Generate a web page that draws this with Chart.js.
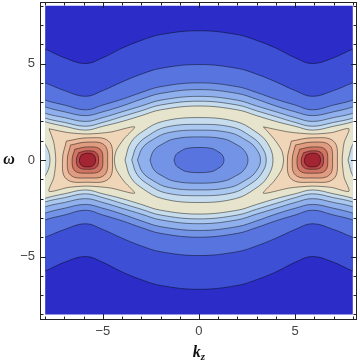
<!DOCTYPE html>
<html lang="en">
<head>
<meta charset="UTF-8">
<title>Contour plot</title>
<script src="https://cdn.jsdelivr.net/npm/chart.js"></script>
<style>
  html, body { margin: 0; padding: 0; background: #fff; }
  #wrap { width: 360px; height: 364px; }
</style>
</head>
<body>
<div id="wrap"><canvas id="contour" width="360" height="364"></canvas></div>
<script>
// plotted range of k_z and omega
const kRange = [-8, 8];
const wRange = [-8, 8];

// tick values
const tickLabels = [-5, 0, 5];
const minorTicks = [-8, -7, -6, -5, -4, -3, -2, -1, 0, 1, 2, 3, 4, 5, 6, 7, 8];

// k values where the wavy band contours were read
const kBand = [-10, -8, -7, -5.9, -5, -4, -3, -2, 0, 2, 3, 4, 5, 5.9, 7, 8, 10];

// upper band contours, outermost first (omega at each kBand value)
const upperLines = [
  [6.5, 5.75, 5.3, 5.0, 5.3, 5.8, 6.2, 6.5, 6.7, 6.5, 6.2, 5.8, 5.3, 5.0, 5.3, 5.75, 6.5],
  [4.75, 4.0, 3.6, 3.3, 3.6, 4.05, 4.45, 4.75, 4.95, 4.75, 4.45, 4.05, 3.6, 3.3, 3.6, 4.0, 4.75],
  [3.8, 3.1, 2.85, 2.6, 2.85, 3.15, 3.5, 3.8, 4.0, 3.8, 3.5, 3.15, 2.85, 2.6, 2.85, 3.1, 3.8],
  [3.45, 2.75, 2.5, 2.3, 2.5, 2.8, 3.15, 3.45, 3.65, 3.45, 3.15, 2.8, 2.5, 2.3, 2.5, 2.75, 3.45],
  [3.1, 2.42, 2.2, 2.0, 2.2, 2.5, 2.8, 3.1, 3.3, 3.1, 2.8, 2.5, 2.2, 2.0, 2.2, 2.42, 3.1],
  [2.85, 2.17, 1.95, 1.75, 1.95, 2.25, 2.55, 2.85, 3.05, 2.85, 2.55, 2.25, 1.95, 1.75, 1.95, 2.17, 2.85],
  [2.6, 1.98, 1.75, 1.55, 1.75, 2.0, 2.3, 2.6, 2.8, 2.6, 2.3, 2.0, 1.75, 1.55, 1.75, 1.98, 2.6]
];

// lower band contours, outermost first
const lowerLines = [
  [-6.5, -5.75, -5.3, -5.0, -5.3, -5.8, -6.2, -6.5, -6.7, -6.5, -6.2, -5.8, -5.3, -5.0, -5.3, -5.75, -6.5],
  [-4.75, -4.0, -3.6, -3.3, -3.6, -4.05, -4.45, -4.75, -4.95, -4.75, -4.45, -4.05, -3.6, -3.3, -3.6, -4.0, -4.75],
  [-3.8, -3.1, -2.85, -2.6, -2.85, -3.15, -3.5, -3.8, -4.0, -3.8, -3.5, -3.15, -2.85, -2.6, -2.85, -3.1, -3.8],
  [-3.45, -2.75, -2.5, -2.3, -2.5, -2.8, -3.15, -3.45, -3.65, -3.45, -3.15, -2.8, -2.5, -2.3, -2.5, -2.75, -3.45],
  [-3.1, -2.42, -2.2, -2.0, -2.2, -2.5, -2.8, -3.1, -3.3, -3.1, -2.8, -2.5, -2.2, -2.0, -2.2, -2.42, -3.1],
  [-2.85, -2.17, -1.95, -1.75, -1.95, -2.25, -2.55, -2.85, -3.05, -2.85, -2.55, -2.25, -1.95, -1.75, -1.95, -2.17, -2.85],
  [-2.6, -1.98, -1.75, -1.55, -1.75, -2.0, -2.3, -2.6, -2.8, -2.6, -2.3, -2.0, -1.75, -1.55, -1.75, -1.98, -2.6]
];

// closed contours round the minima (k offsets from the well centre, omega)
const wellCentres = [-11.6, 0, 11.6];
const wellLoops = [
  [[-3.85,0],[-3.55,0.9],[-2.9,1.5],[-1.9,2.0],[0,2.2],[1.9,2.0],[2.9,1.5],[3.55,0.9],[3.85,0],[3.55,-0.9],[2.9,-1.5],[1.9,-2.0],[0,-2.2],[-1.9,-2.0],[-2.9,-1.5],[-3.55,-0.9],[-3.85,0]],
  [[-3.5,0],[-3.22,0.75],[-2.63,1.27],[-1.75,1.7],[0,1.85],[1.75,1.7],[2.63,1.27],[3.22,0.75],[3.5,0],[3.22,-0.75],[2.63,-1.27],[1.75,-1.7],[0,-1.85],[-1.75,-1.7],[-2.63,-1.27],[-3.22,-0.75],[-3.5,0]],
  [[-3.2,0],[-2.94,0.63],[-2.4,1.06],[-1.6,1.42],[0,1.55],[1.6,1.42],[2.4,1.06],[2.94,0.63],[3.2,0],[2.94,-0.63],[2.4,-1.06],[1.6,-1.42],[0,-1.55],[-1.6,-1.42],[-2.4,-1.06],[-2.94,-0.63],[-3.2,0]],
  [[-2.55,0],[-2.35,0.5],[-1.9,0.83],[-1.27,1.1],[0,1.2],[1.27,1.1],[1.9,0.83],[2.35,0.5],[2.55,0],[2.35,-0.5],[1.9,-0.83],[1.27,-1.1],[0,-1.2],[-1.27,-1.1],[-1.9,-0.83],[-2.35,-0.5],[-2.55,0]],
  [[-1.3,0],[-1.2,0.27],[-0.97,0.45],[-0.65,0.6],[0,0.65],[0.65,0.6],[0.97,0.45],[1.2,0.27],[1.3,0],[1.2,-0.27],[0.97,-0.45],[0.65,-0.6],[0,-0.65],[-0.65,-0.6],[-0.97,-0.45],[-1.2,-0.27],[-1.3,0]]
];

// star shaped outer contour round each maximum
const starLeft = [[-7.8,1.62],[-6.8,1.42],[-5.8,1.35],[-4.6,1.45],[-3.35,1.72],[-3.9,1.1],[-4.3,0.5],[-4.4,0],[-4.3,-0.5],[-3.9,-1.1],[-3.35,-1.72],[-4.6,-1.45],[-5.8,-1.35],[-6.8,-1.42],[-7.8,-1.62],[-7.55,-0.9],[-7.45,0],[-7.55,0.9],[-7.8,1.62]];
const starRight = [[3.35,1.72],[4.7,1.45],[5.9,1.35],[6.9,1.42],[7.8,1.62],[7.55,0.9],[7.45,0],[7.55,-0.9],[7.8,-1.62],[6.9,-1.42],[5.9,-1.35],[4.7,-1.45],[3.35,-1.72],[3.9,-1.1],[4.3,-0.5],[4.4,0],[4.3,0.5],[3.9,1.1],[3.35,1.72]];

// inner contours round the maxima (offsets from the peak centre)
const peakCentres = [-5.8, 5.9];
const peakLoops = [
  [[-1.1,0.98],[0,1.15],[1.1,0.98],[1.3,0],[1.1,-0.98],[0,-1.15],[-1.1,-0.98],[-1.3,0],[-1.1,0.98]],
  [[-0.88,0.78],[0,0.93],[0.88,0.78],[1.05,0],[0.88,-0.78],[0,-0.93],[-0.88,-0.78],[-1.05,0],[-0.88,0.78]],
  [[-0.66,0.56],[0,0.68],[0.66,0.56],[0.8,0],[0.66,-0.56],[0,-0.68],[-0.66,-0.56],[-0.8,0],[-0.66,0.56]],
  [[-0.46,0.38],[0,0.48],[0.46,0.38],[0.58,0],[0.46,-0.38],[0,-0.48],[-0.46,-0.38],[-0.58,0],[-0.46,0.38]],
  [[-0.32,0.27],[0,0.36],[0.32,0.27],[0.42,0],[0.32,-0.27],[0,-0.36],[-0.32,-0.27],[-0.42,0],[-0.32,0.27]]
];

// level colours, lowest to highest
const levelColors = ['#2c2dc9', '#3d4fd5', '#5874de', '#7393e6', '#8fb0ec', '#abc9f0', '#c7ddee',
                     '#e6e4cc', '#f0d6b8', '#ebbc9d', '#df9c80', '#cf7564', '#bb4a4c', '#a32433'];
const lineColor = 'rgba(0, 0, 0, 0.5)';

function shape(points, level, tension, border) {
    return {
        data: points.map(p => ({ x: p[0], y: p[1] })),
        showLine: true,
        fill: 'shape',
        backgroundColor: levelColors[level],
        borderColor: lineColor,
        borderWidth: border === undefined ? 0.9 : border,
        pointRadius: 0,
        pointHoverRadius: 0,
        tension: tension
    };
}

// build layers in painting order (bottom first)
let layers = [];
layers.push(shape([[-10, 10], [10, 10], [10, -10], [-10, -10], [-10, 10]], 0, 0, 0));
upperLines.forEach((top, i) => {
    let pts = kBand.map((k, j) => [k, top[j]]);
    let bottom = kBand.map((k, j) => [k, lowerLines[i][j]]).reverse();
    layers.push(shape(pts.concat(bottom), i + 1, 0.4));
});
wellCentres.forEach(c => {
    wellLoops.forEach((loop, i) => {
        layers.push(shape(loop.map(p => [p[0] + c, p[1]]), 6 - i, 0.4));
    });
});
[starLeft, starRight].forEach((star, s) => {
    layers.push(shape(star, 8, 0.25));
    peakLoops.forEach((loop, i) => {
        layers.push(shape(loop.map(p => [p[0] + peakCentres[s], p[1]]), 9 + i, 0.4));
    });
});

const fieldClip = {
    id: 'fieldClip',
    beforeDatasetsDraw(chart) {
        const { ctx, scales: { x, y } } = chart;
        const l = x.getPixelForValue(kRange[0]), r = x.getPixelForValue(kRange[1]);
        const t = y.getPixelForValue(wRange[1]), b = y.getPixelForValue(wRange[0]);
        ctx.save();
        ctx.beginPath();
        ctx.rect(l, t, r - l, b - t);
        ctx.clip();
    },
    afterDatasetsDraw(chart) {
        chart.ctx.restore();
    }
};

const frame = {
    id: 'frame',
    afterDraw(chart) {
        const { ctx, chartArea: a, scales: { x, y } } = chart;
        ctx.save();
        ctx.strokeStyle = '#222';
        ctx.lineWidth = 1;
        ctx.strokeRect(a.left + 0.5, a.top + 0.5, a.right - a.left - 1, a.bottom - a.top - 1);
        ctx.beginPath();
        minorTicks.forEach(v => {
            const len = tickLabels.includes(v) ? 6 : 3.5;
            const px = Math.round(x.getPixelForValue(v)) + 0.5;
            ctx.moveTo(px, a.bottom); ctx.lineTo(px, a.bottom - len);
            ctx.moveTo(px, a.top); ctx.lineTo(px, a.top + len);
            const py = Math.round(y.getPixelForValue(v)) + 0.5;
            ctx.moveTo(a.left, py); ctx.lineTo(a.left + len, py);
            ctx.moveTo(a.right, py); ctx.lineTo(a.right - len, py);
        });
        ctx.stroke();

        // axis titles
        ctx.fillStyle = '#111';
        ctx.textBaseline = 'alphabetic';
        ctx.font = 'bold italic 16px "Liberation Serif"';
        ctx.textAlign = 'center';
        ctx.fillText('\u03c9', 9, y.getPixelForValue(0) + 4);

        const kFont = 'bold italic 16px "Liberation Serif"';
        const zFont = 'bold italic 11px "Liberation Serif"';
        ctx.font = kFont;
        const wk = ctx.measureText('k').width;
        ctx.font = zFont;
        const wz = ctx.measureText('z').width;
        const x0 = x.getPixelForValue(0) - (wk + wz) / 2;
        ctx.textAlign = 'left';
        ctx.font = kFont;
        ctx.fillText('k', x0, 357);
        ctx.font = zFont;
        ctx.fillText('z', x0 + wk, 360);
        ctx.restore();
    }
};

const fmt = v => v < 0 ? '\u2212' + Math.abs(v) : String(v);
const tickFont = { family: 'Liberation Sans', size: 13 };

new Chart(document.getElementById('contour'), {
    type: 'scatter',
    data: { datasets: layers.slice().reverse() },
    options: {
        responsive: false,
        animation: false,
        events: [],
        layout: { autoPadding: false, padding: { left: 0, right: 3, top: 2, bottom: 0 } },
        elements: { line: { capBezierPoints: false } },
        plugins: { legend: { display: false }, tooltip: { enabled: false } },
        scales: {
            x: {
                type: 'linear',
                min: -8.27,
                max: 8.22,
                afterBuildTicks: s => { s.ticks = tickLabels.map(v => ({ value: v })); },
                afterFit: s => { s.height = 44; s.paddingLeft = 0; s.paddingRight = 0; },
                grid: { display: false, drawTicks: false },
                border: { display: false },
                ticks: { padding: 4, color: '#444', font: tickFont, maxRotation: 0, autoSkip: false, callback: fmt }
            },
            y: {
                type: 'linear',
                min: -8.29,
                max: 8.19,
                afterBuildTicks: s => { s.ticks = tickLabels.map(v => ({ value: v })); },
                afterFit: s => { s.width = 40; s.paddingTop = 0; s.paddingBottom = 0; },
                grid: { display: false, drawTicks: false },
                border: { display: false },
                ticks: { padding: 5, color: '#444', font: tickFont, autoSkip: false, callback: fmt }
            }
        }
    },
    plugins: [fieldClip, frame]
});
</script>
</body>
</html>
